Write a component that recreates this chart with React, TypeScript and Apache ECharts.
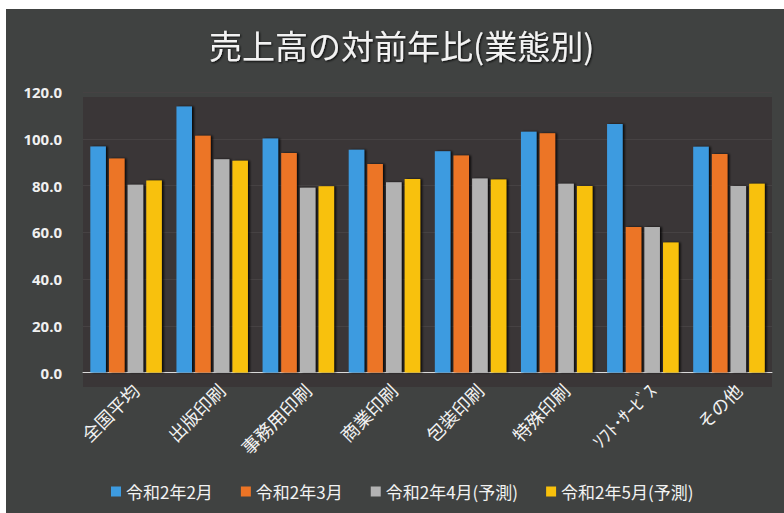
import React, { useEffect, useRef } from "react";
import * as echarts from "echarts";

const titleText = "売上高の対前年比(業態別)";
const categories = ["全国平均", "出版印刷", "事務用印刷", "商業印刷", "包装印刷", "特殊印刷", "ｿﾌﾄ･ｻｰﾋﾞｽ", "その他"];
const seriesNames = ["令和2年2月", "令和2年3月", "令和2年4月(予測)", "令和2年5月(予測)"];
const feb = [96.7, 113.8, 100.1, 95.3, 94.6, 103.0, 106.3, 96.6];
const mar = [91.6, 101.3, 93.9, 89.2, 92.8, 102.4, 62.2, 93.5];
const apr = [80.3, 91.2, 79.0, 81.4, 83.0, 80.7, 62.2, 79.8];
const may = [82.1, 90.6, 79.7, 82.8, 82.6, 79.8, 55.6, 80.7];
const colors = ["#3d9be0", "#ec7425", "#b3b3b3", "#f8c10c"];

export default function App() {
  const ref = useRef<HTMLDivElement>(null);
  useEffect(() => {
    if (!ref.current) return;
    const chart = echarts.init(ref.current, null, { renderer: "svg" });
    const data = [feb, mar, apr, may];
    const font = "'Noto Sans CJK JP', 'Noto Sans', sans-serif";
    chart.setOption({
      animation: false,
      backgroundColor: "#404241",
      color: colors,
      textStyle: { fontFamily: font },
      title: {
        text: titleText,
        left: 198,
        top: 14,
        textStyle: {
          color: "#f2f2f2",
          fontSize: 33,
          fontWeight: "normal",
          fontFamily: font,
          textShadowColor: "rgba(0,0,0,0.9)",
          textShadowBlur: 2,
          textShadowOffsetX: 1,
          textShadowOffsetY: 1,
        },
      },
      graphic: [
        {
          type: "rect",
          z: -10,
          silent: true,
          shape: { x: 77, y: 88, width: 689, height: 290 },
          style: { fill: "#3a3637" },
        },
      ],
      legend: {
        data: seriesNames,
        left: 100,
        bottom: 8,
        itemWidth: 10,
        itemHeight: 10,
        itemGap: 28,
        icon: "rect",
        textStyle: { color: "#f2f2f2", fontSize: 17, fontFamily: font },
      },
      grid: { left: 77, right: 12, top: 83, bottom: 140.5, containLabel: false },
      xAxis: {
        type: "category",
        data: categories,
        axisLine: { show: true, lineStyle: { color: "#d9d9d9", width: 1 } },
        axisTick: { show: false },
        axisLabel: {
          rotate: 45,
          interval: 0,
          margin: 5,
          color: "#f2f2f2",
          fontSize: 18,
          fontFamily: font,
          verticalAlign: "top",
          padding: [4, 0, 0, 0],
        },
      },
      yAxis: {
        type: "value",
        min: 0,
        max: 120,
        interval: 20,
        axisLine: { show: false },
        axisTick: { show: false },
        splitLine: { show: true, lineStyle: { color: "#464243", width: 1 } },
        axisLabel: {
          formatter: (v: number) => v.toFixed(1),
          color: "#f0f0f0",
          fontSize: 15,
          margin: 21,
          fontFamily: "'Open Sans', sans-serif",
          fontWeight: "bold",
        },
      },
      series: seriesNames.map((name, i) => ({
        name,
        type: "bar",
        data: data[i],
        barGap: "20%",
        barCategoryGap: "17%",
        itemStyle: {
          color: colors[i],
          shadowColor: "rgba(0,0,0,0.8)",
          shadowOffsetX: 2,
          shadowOffsetY: 0,
          shadowBlur: 2,
        },
      })),
    });
    return () => chart.dispose();
  }, []);
  return (
    <div
      ref={ref}
      style={{ position: "absolute", left: 6, top: 9, width: 778, height: 504 }}
    />
  );
}
